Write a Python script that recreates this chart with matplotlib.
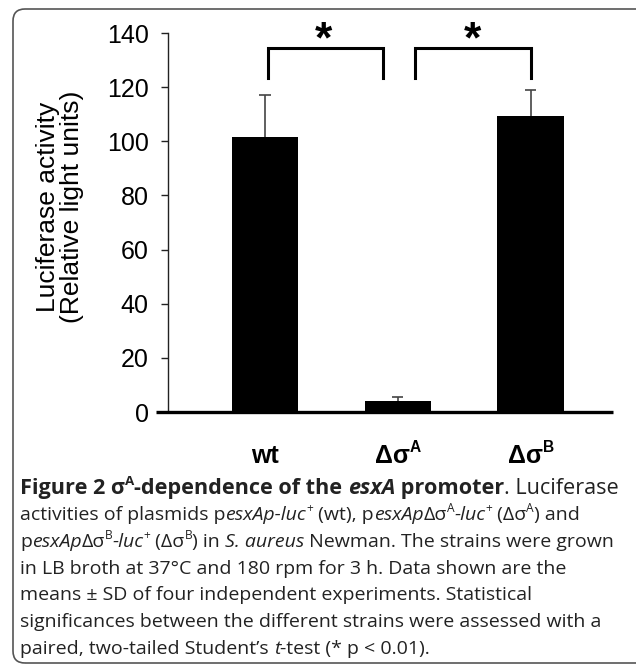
import matplotlib
matplotlib.use('Agg')

import matplotlib.pyplot as plt
from matplotlib.patches import FancyBboxPatch
from matplotlib.transforms import IdentityTransform

# ── Data ─────────────────────────────────────────────────────────────────────
strains = ["wt", "ΔσA", "ΔσB"]
strain_sup = ["", "A", "B"]
means = [101.5, 4.2, 109.3]
sds = [15.6, 1.5, 9.7]
y_ticks = [0, 20, 40, 60, 80, 100, 120, 140]

# significance brackets: (left bar, right bar)
brackets = [(0, 1), (1, 2)]

W, H = 636, 666
CHART_FONT = "Liberation Sans"
CAP_FONT = "Open Sans"

fig = plt.figure(figsize=(W / 100, H / 100), dpi=100)
fig.patch.set_facecolor("white")

# ── Rounded frame around figure ──────────────────────────────────────────────
frame = FancyBboxPatch((13, H - 663), 640, 654,
                       boxstyle="round,pad=0,rounding_size=12",
                       transform=IdentityTransform(),
                       facecolor="none", edgecolor="#555555", lw=1.2)
fig.patches.append(frame)

# ── Bar chart ────────────────────────────────────────────────────────────────
ax = fig.add_axes([168 / W, 1 - 412 / H, (613 - 168) / W, (412 - 33) / H])
x = list(range(len(means)))
ax.bar(x, means, width=0.5, color="black", zorder=3)

# upward-only error bars with caps
tops = [m + s for m, s in zip(means, sds)]
ax.vlines(x, means, tops, color="#444444", lw=1.2, zorder=2)
ax.hlines(tops, [i - 0.042 for i in x], [i + 0.042 for i in x],
          color="#444444", lw=1.2, zorder=2)

ax.set_xlim(-0.73, 2.62)
ax.set_ylim(0, 140)
ax.set_yticks(y_ticks)
ax.set_yticklabels([str(t) for t in y_ticks], fontfamily=CHART_FONT, fontsize=18)
ax.set_xticks([])
ax.tick_params(axis="y", direction="out", length=5, width=1, pad=9, color="#222222")
for side in ["top", "right", "bottom"]:
    ax.spines[side].set_visible(False)
ax.spines["left"].set_linewidth(1)
ax.spines["left"].set_color("#222222")

# thick baseline extending a bit left of the y axis
ax.plot([-0.82, 2.62], [0, 0], color="black", lw=2.4, clip_on=False, zorder=4,
        solid_capstyle="butt")

fig.text(60 / W, 1 - 207 / H, "Luciferase activity\n(Relative light units)",
         fontfamily=CHART_FONT, fontsize=19, linespacing=1.05,
         rotation=90, ha="center", va="center", multialignment="center")

# brackets with stars
for (a, b) in brackets:
    ax.plot([a + 0.02, a + 0.02, b - 0.11, b - 0.11] if a == 0 else
            [a + 0.13, a + 0.13, b, b],
            [123.4, 134.5, 134.5, 123.4], color="black", lw=2.2,
            clip_on=False, solid_joinstyle="miter")
    mid = (a + b) / 2 - 0.06 if a == 0 else (a + b) / 2 + 0.06
    ax.text(mid, 137.1, "*", ha="center", va="center", fontsize=32,
            fontweight="bold", fontfamily=CHART_FONT, clip_on=False)

# ── Text with mixed styles ───────────────────────────────────────────────────
renderer = fig.canvas.get_renderer()


def draw_runs(x_px, y_px, runs, size, family, color="#1a1a1a", center=False):
    """runs: list of (text, weight, style, sup)"""
    arts = []
    cx = 0.0
    for text, weight, style, sup in runs:
        fs = size * 0.62 if sup else size
        dy = size * 0.42 * 100 / 72 if sup else 0
        t = fig.text(0, 0, text, fontsize=fs, fontweight=weight, fontstyle=style,
                     fontfamily=family, color=color, va="baseline", ha="left",
                     transform=IdentityTransform())
        w = t.get_window_extent(renderer).width
        arts.append((t, cx, dy))
        cx += w
    off = -cx / 2 if center else 0
    for t, px, dy in arts:
        t.set_position((x_px + off + px, H - y_px + dy))


# x category labels
label_x = [ax.transData.transform((i, 0))[0] for i in x]
for lx, name, sup in zip(label_x, strains, strain_sup):
    base = name[:-1] if sup else name
    runs = [(base, "bold", "normal", False)]
    if sup:
        runs.append((sup, "bold", "normal", True))
    draw_runs(lx, 463, runs, 18, CHART_FONT, color="black", center=True)

# caption
N, B = "normal", "bold"
I = "italic"
cap_lines = [
    [("Figure 2 σ", B, N, False), ("A", B, N, True), ("-dependence of the ", B, N, False),
     ("esxA", B, I, False), (" promoter", B, N, False), (". Luciferase", N, N, False)],
    [("activities of plasmids p", N, N, False), ("esxAp-luc", N, I, False), ("+", N, N, True),
     (" (wt), p", N, N, False), ("esxAp", N, I, False), ("Δσ", N, N, False), ("A", N, N, True),
     ("-luc", N, I, False), ("+", N, N, True), (" (Δσ", N, N, False), ("A", N, N, True),
     (") and", N, N, False)],
    [("p", N, N, False), ("esxAp", N, I, False), ("Δσ", N, N, False), ("B", N, N, True),
     ("-luc", N, I, False), ("+", N, N, True), (" (Δσ", N, N, False), ("B", N, N, True),
     (") in ", N, N, False), ("S. aureus", N, I, False),
     (" Newman. The strains were grown", N, N, False)],
    [("in LB broth at 37°C and 180 rpm for 3 h. Data shown are the", N, N, False)],
    [("means ± SD of four independent experiments. Statistical", N, N, False)],
    [("significances between the different strains were assessed with a", N, N, False)],
    [("paired, two-tailed Student’s ", N, N, False), ("t", N, I, False),
     ("-test (* p < 0.01).", N, N, False)],
]
cap_y = [494, 520, 547, 574, 600, 627, 654]
for i, (runs, yy) in enumerate(zip(cap_lines, cap_y)):
    draw_runs(20, yy, runs, 14.0 if i else 15.6, CAP_FONT, color="#222222")

fig.savefig("out.png", dpi=100)
